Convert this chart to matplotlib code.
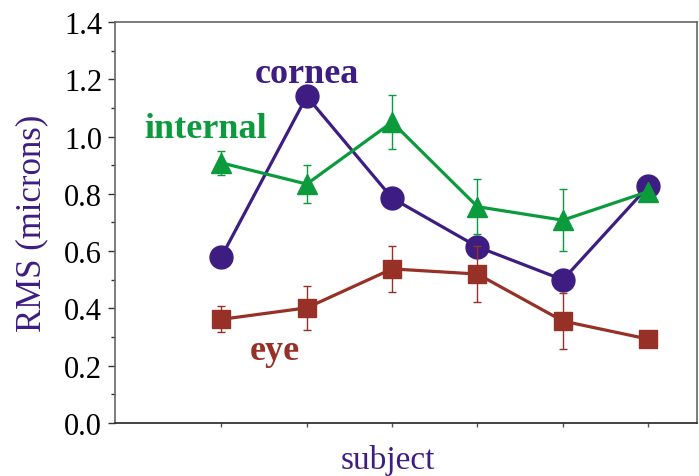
import matplotlib
matplotlib.use("Agg")
import matplotlib.pyplot as plt
from matplotlib.ticker import MultipleLocator, FormatStrFormatter

subjects = [1, 2, 3, 4, 5, 6]

cornea = [0.58, 1.14, 0.785, 0.615, 0.50, 0.826]

internal = [0.908, 0.834, 1.05, 0.755, 0.708, 0.808]
internal_err = [0.042, 0.066, 0.095, 0.095, 0.109, 0.0]

eye = [0.362, 0.402, 0.538, 0.52, 0.356, 0.293]
eye_err = [0.045, 0.077, 0.080, 0.099, 0.098, 0.0]

y_ticks = [0.0, 0.2, 0.4, 0.6, 0.8, 1.0, 1.2, 1.4]

purple = "#3e1d83"
green = "#0b9a3c"
red = "#973027"
serif = ["Liberation Serif", "DejaVu Serif"]

fig = plt.figure(figsize=(6.99, 4.77), dpi=100)
ax = fig.add_axes([0.164, 0.111, 0.833, 0.841])

ax.plot(subjects, cornea, color=purple, lw=2.3, marker="o", ms=16.5,
        zorder=3)
ax.errorbar(subjects, internal, yerr=internal_err, color=green, lw=2.3,
            marker="^", ms=14.5, elinewidth=1.0, capsize=3, capthick=1.0,
            zorder=4)
ax.errorbar(subjects, eye, yerr=eye_err, color=red, lw=2.3,
            marker="s", ms=13, elinewidth=1.0, capsize=3, capthick=1.0,
            zorder=5)

ax.text(2.0, 1.19, "cornea", color=purple, fontsize=26, fontweight="bold",
        family=serif, ha="center", va="baseline")
ax.text(0.81, 1.0, "internal", color=green, fontsize=26, fontweight="bold",
        family=serif, ha="center", va="baseline")
ax.text(1.63, 0.223, "eye", color=red, fontsize=26, fontweight="bold",
        family=serif, ha="center", va="baseline")

ax.set_xlim(-0.25, 6.57)
ax.set_ylim(0.0, 1.4)
ax.set_xticks(subjects)
ax.set_xticklabels([])
ax.set_yticks(y_ticks)
ax.yaxis.set_major_formatter(FormatStrFormatter("%.1f"))
ax.yaxis.set_minor_locator(MultipleLocator(0.1))
ax.tick_params(axis="y", which="major", length=5, width=1, color="#333333",
               labelsize=22, pad=4)
ax.tick_params(axis="y", which="minor", length=3, width=1, color="#333333")
ax.tick_params(axis="x", which="major", length=3, width=1, color="#555555")
for lab in ax.get_yticklabels():
    lab.set_family(serif)

for side in ["left", "top", "right"]:
    ax.spines[side].set_color("#666666")
    ax.spines[side].set_linewidth(1.2)
ax.spines["bottom"].set_color("#222222")
ax.spines["bottom"].set_linewidth(1.2)

ax.set_ylabel("RMS (microns)", color=purple, fontsize=25, family=serif,
              labelpad=11)
ax.set_xlabel("subject", color=purple, fontsize=24, family=serif)
ax.xaxis.set_label_coords(0.469, -0.092)
ax.xaxis.label.set_va("center")

fig.savefig("out.png", dpi=100)
